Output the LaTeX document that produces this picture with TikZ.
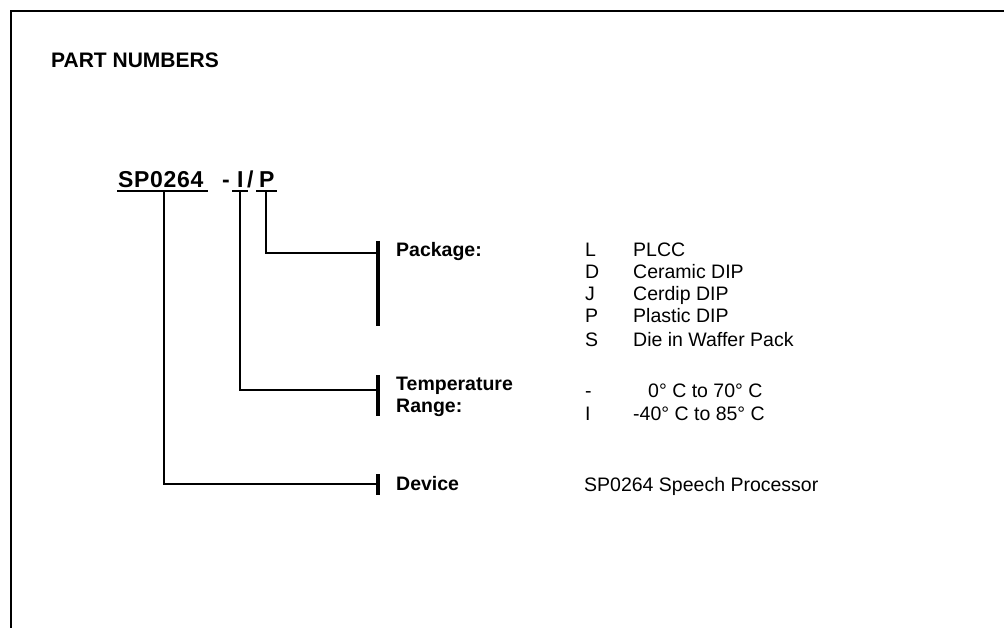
\documentclass[tikz,border=0pt]{standalone}
\usepackage{fontspec}
\setmainfont{Liberation Sans}
\begin{document}
\begin{tikzpicture}[x=1pt,y=-1pt,
  lbl/.style={anchor=base west,inner sep=0pt,font=\fontsize{19.5}{22}\selectfont\bfseries},
  val/.style={anchor=base west,inner sep=0pt,font=\fontsize{19.5}{22}\selectfont},
  ttl/.style={anchor=base west,inner sep=0pt,font=\fontsize{21}{24}\selectfont\bfseries},
  pnum/.style={anchor=base west,inner sep=0pt,font=\fontsize{23}{26}\selectfont\bfseries},
  conn/.style={line width=1.8pt},
  barline/.style={line width=4pt},
  frameline/.style={line width=2pt}]
\useasboundingbox (0,0) rectangle (1004,628);
% frame (top and left edges)
\draw[frameline] (11,628) -- (11,11) -- (1004,11);
% title
\node[ttl] (title) at (51,68) {PART NUMBERS};
% part number
\node[pnum] (pn) at (118,188) {\addfontfeature{LetterSpace=3}SP0264};
\node[pnum] (dash) at (222,188) {-};
\node[pnum] (pi) at (237,188) {I};
\node[pnum] (slash) at (247,188) {/};
\node[pnum] (pp) at (259,188) {P};
% underlines
\draw[conn] (117,191) -- (208,191);
\draw[conn] (232,191) -- (248,191);
\draw[conn] (256,191) -- (277,191);
% bars
\coordinate (pkgbar) at (378,253);
\coordinate (tempbar) at (378,390);
\coordinate (devbar) at (378,484);
\draw[barline] (378,241) -- (378,326);
\draw[barline] (378,375) -- (378,416);
\draw[barline] (378,474) -- (378,495);
% connectors
\draw[conn] (266,191) |- (pkgbar);
\draw[conn] (240,191) |- (tempbar);
\draw[conn] (164,191) |- (devbar);
% package
\node[lbl] (pkg) at (396,257) {Package:};
\node[val] (cL) at (585,257) {L};
\node[val] (cD) at (585,279) {D};
\node[val] (cJ) at (585,301) {J};
\node[val] (cP) at (585,323) {P};
\node[val] (cS) at (585,346) {S};
\node[val] (dL) at (633,257) {PLCC};
\node[val] (dD) at (633,279) {Ceramic DIP};
\node[val] (dJ) at (633,301) {Cerdip DIP};
\node[val] (dP) at (633,323) {Plastic DIP};
\node[val] (dS) at (633,346) {Die in Waffer Pack};
% temperature
\node[lbl] (temp) at (396,390) {Temperature};
\node[lbl] (range) at (396,412) {Range:};
\node[val] (cM) at (585,397) {-};
\node[val] (cI) at (585,420) {I};
\node[val] (dM) at (648,397) {0° C to 70° C};
\node[val] (dI) at (633,420) {-40° C to 85° C};
% device
\node[lbl] (dev) at (396,490) {Device};
\node[val] (dDev) at (584,491) {SP0264 Speech Processor};
\end{tikzpicture}
\end{document}
